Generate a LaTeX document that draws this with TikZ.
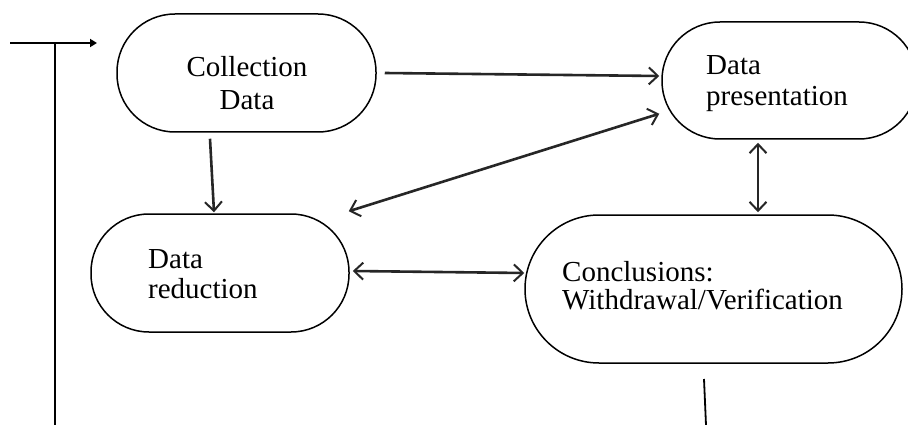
\documentclass[tikz,border=0pt]{standalone}
\usepackage{fontspec}
\setmainfont{Liberation Serif}
\usetikzlibrary{arrows.meta}
\begin{document}
\begin{tikzpicture}[x=1pt,y=-1pt,
  box/.style={draw, line width=1.5pt, rounded corners=#1, inner sep=0pt},
  box/.default=58pt,
  lbl/.style={inner sep=0pt, font=\fontsize{29}{30}\selectfont},
  conn/.style={line width=2.6pt, draw=black!85},
  tip/.style={-{Straight Barb[length=9pt,width=17pt,line width=2pt]}},
  tips/.style={{Straight Barb[length=9pt,width=17pt,line width=2pt]}-{Straight Barb[length=9pt,width=17pt,line width=2pt]}},
  plain/.style={line width=1.8pt}
]
\useasboundingbox (0,0) rectangle (908,425);
\clip (0,0) rectangle (908,425);
\fill[white] (0,0) rectangle (908,425);

% boxes
\node[box, minimum width=259pt, minimum height=118pt] (A) at (246.5,73) {};
\node[box, minimum width=255pt, minimum height=117pt] (B) at (789.5,80.5) {};
\node[box, minimum width=258pt, minimum height=118pt] (C) at (220,273) {};
\node[box=74pt, minimum width=377pt, minimum height=148pt] (D) at (713.5,289) {};

% texts
\node[lbl, anchor=base] (a1) at (247,77) {Collection};
\node[lbl, anchor=base] (a2) at (247,110) {Data};
\node[lbl, anchor=base west] (b1) at (706,75) {Data};
\node[lbl, anchor=base west] (b2) at (706,106) {presentation};
\node[lbl, anchor=base west] (c1) at (148,268) {Data};
\node[lbl, anchor=base west] (c2) at (148,298) {reduction};
\node[lbl, anchor=base west] (d1) at (562,281) {Conclusions:};
\node[lbl, anchor=base west] (d2) at (562,309) {Withdrawal/Verification};

% left feedback line
\coordinate (L0) at (10,43);
\coordinate (L1) at (97,43);
\coordinate (V0) at (55,43);
\coordinate (V1) at (55,425);
\draw[plain, -{Triangle[length=7pt,width=8pt]}] (L0) -- (L1);
\draw[plain] (V0) -- (V1);

% bottom line below conclusions
\coordinate (E0) at (704,379);
\coordinate (E1) at (706,425);
\draw[plain] (E0) -- (E1);

% connectors
\draw[conn, tip] ([shift={(8,0)}]A.east) -- ([shift={(-2,-4.5)}]B.west);
\draw[conn, tip] ([shift={(-36.5,6)}]A.south) -- ([shift={(-6,-1)}]C.north);
\draw[conn, tips] ([shift={(-1,-2)}]C.north east) -- ([shift={(-2,-26)}]B.south west);
\draw[conn, tips] ([shift={(-31.5,3)}]B.south) -- ([shift={(44.5,-2)}]D.north);
\draw[conn, tips] ([shift={(3,-2)}]C.east) -- ([shift={(0,-16)}]D.west);
\end{tikzpicture}
\end{document}
